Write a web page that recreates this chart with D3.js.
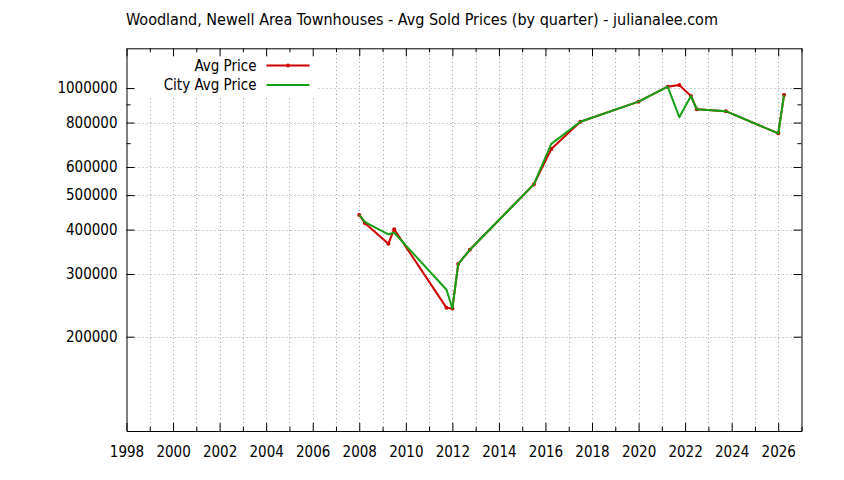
<!DOCTYPE html>
<html><head><meta charset="utf-8">
<script src="https://cdn.jsdelivr.net/npm/d3@7"></script>
<style>
body{margin:0;background:#fff;}
text{font-family:"DejaVu Sans Condensed","DejaVu Sans",sans-serif;font-size:15px;fill:#000;}
</style></head>
<body>
<svg id="c" width="844" height="480"></svg>
<script>
const titleText = "Woodland, Newell Area Townhouses - Avg Sold Prices (by quarter) - julianalee.com";
const seriesNames = ["Avg Price", "City Avg Price"];
const quarters = [2008.0, 2008.25, 2009.25, 2009.5, 2011.75, 2012.0, 2012.25, 2012.75, 2015.5, 2016.25, 2017.5, 2020.0, 2021.25, 2021.75, 2022.25, 2022.5, 2023.75, 2026.0, 2026.25];
const avgPrice = [440000, 417000, 365000, 401000, 241000, 240000, 320000, 351000, 536000, 674000, 804000, 916000, 1009000, 1020000, 950000, 872000, 861000, 746000, 956000];
const cityAvgPrice = [440000, 420000, 388000, 392000, 271000, 240000, 320000, 351000, 536000, 697000, 804000, 916000, 1009000, 828000, 950000, 872000, 861000, 746000, 956000];
const xMajorTicks = [1998, 2000, 2002, 2004, 2006, 2008, 2010, 2012, 2014, 2016, 2018, 2020, 2022, 2024, 2026];
const xMinorTicks = [1999, 2001, 2003, 2005, 2007, 2009, 2011, 2013, 2015, 2017, 2019, 2021, 2023, 2025, 2027];
const yMajorTicks = [200000, 300000, 400000, 500000, 600000, 800000, 1000000];
const yMinorTicks = [700000, 900000];
const xDomain = [1998, 2027];
const yDomain = [108600, 1293700];

const L = 126.5, R = 801.5, T = 48.3, B = 431;
const svg = d3.select("#c");
const x = d3.scaleLinear().domain(xDomain).range([L, R]);
const y = d3.scaleLog().domain(yDomain).range([B, T]);

// title
svg.append("text").attr("x", 422).attr("y", 25).attr("text-anchor", "middle").style("font-size", "16px").text(titleText);

// grid
const grid = svg.append("g").attr("stroke", "#a0a0a0").attr("stroke-width", 1).attr("stroke-dasharray", "1,3");
xMajorTicks.concat(xMinorTicks).filter(v => v > xDomain[0] && v < xDomain[1]).forEach(v => {
  grid.append("line").attr("x1", Math.round(x(v)) + 0.5).attr("x2", Math.round(x(v)) + 0.5).attr("y1", B).attr("y2", T);
});
yMajorTicks.forEach(v => {
  grid.append("line").attr("x1", L).attr("x2", R).attr("y1", Math.round(y(v)) + 0.5).attr("y2", Math.round(y(v)) + 0.5);
});

// legend background (opaque key)
svg.append("rect").attr("x", L + 1).attr("y", T + 1).attr("width", 317 - L - 1).attr("height", 95 - T - 1).attr("fill", "#fff");

// axes via d3
const axB = d3.axisBottom(x).tickValues(xMajorTicks).tickFormat(d3.format("d")).tickSizeInner(-8).tickSizeOuter(0).tickPadding(21);
const gB = svg.append("g").attr("transform", `translate(0,${B})`).call(axB);
const axBm = d3.axisBottom(x).tickValues(xMinorTicks).tickFormat("").tickSizeInner(-4).tickSizeOuter(0);
svg.append("g").attr("transform", `translate(0,${B})`).call(axBm).select(".domain").remove();
const axT = d3.axisTop(x).tickValues(xMajorTicks).tickFormat("").tickSizeInner(-8).tickSizeOuter(0);
svg.append("g").attr("transform", `translate(0,${T})`).call(axT);
const axTm = d3.axisTop(x).tickValues(xMinorTicks).tickFormat("").tickSizeInner(-4).tickSizeOuter(0);
svg.append("g").attr("transform", `translate(0,${T})`).call(axTm).select(".domain").remove();

const axL = d3.axisLeft(y).tickValues(yMajorTicks).tickFormat(d3.format("d")).tickSizeInner(-8).tickSizeOuter(0).tickPadding(9);
svg.append("g").attr("transform", `translate(${L},0)`).call(axL);
const axLm = d3.axisLeft(y).tickValues(yMinorTicks).tickFormat("").tickSizeInner(-4).tickSizeOuter(0);
svg.append("g").attr("transform", `translate(${L},0)`).call(axLm).select(".domain").remove();
const axR = d3.axisRight(y).tickValues(yMajorTicks).tickFormat("").tickSizeInner(-8).tickSizeOuter(0);
svg.append("g").attr("transform", `translate(${R},0)`).call(axR);
const axRm = d3.axisRight(y).tickValues(yMinorTicks).tickFormat("").tickSizeInner(-4).tickSizeOuter(0);
svg.append("g").attr("transform", `translate(${R},0)`).call(axRm).select(".domain").remove();

svg.selectAll("g").attr("font-family", null).attr("font-size", null);
svg.selectAll(".tick text").attr("fill", "#000");
svg.selectAll(".domain").attr("stroke", "#000");
svg.selectAll(".tick line").attr("stroke", "#000");
gB.selectAll(".tick text").attr("dy", "0.35em");

// data lines
const red = "#cc0000", green = "#14a014";
const line = d3.line().x(d => x(d[0])).y(d => y(d[1]));
const redData = quarters.map((q, i) => [q, avgPrice[i]]);
const greenData = quarters.map((q, i) => [q, cityAvgPrice[i]]);
svg.append("path").datum(redData).attr("d", line).attr("fill", "none").attr("stroke", red).attr("stroke-width", 2).attr("stroke-linejoin", "round");
svg.selectAll("circle.pt").data(redData).join("circle").attr("class", "pt").attr("cx", d => x(d[0])).attr("cy", d => y(d[1])).attr("r", 2).attr("fill", red);
svg.append("path").datum(greenData).attr("d", line).attr("fill", "none").attr("stroke", green).attr("stroke-width", 2).attr("stroke-linejoin", "round");

// legend
const leg = svg.append("g");
const legY = [65.5, 85];
const colors = [red, green];
seriesNames.forEach((n, i) => {
  leg.append("text").attr("x", 256.5).attr("y", legY[i]).attr("dy", "0.35em").attr("text-anchor", "end").text(n);
  leg.append("line").attr("x1", 266.5).attr("x2", 309.5).attr("y1", legY[i]).attr("y2", legY[i]).attr("stroke", colors[i]).attr("stroke-width", 2);
});
leg.append("circle").attr("cx", 288).attr("cy", legY[0]).attr("r", 2).attr("fill", red);
</script>
</body></html>
